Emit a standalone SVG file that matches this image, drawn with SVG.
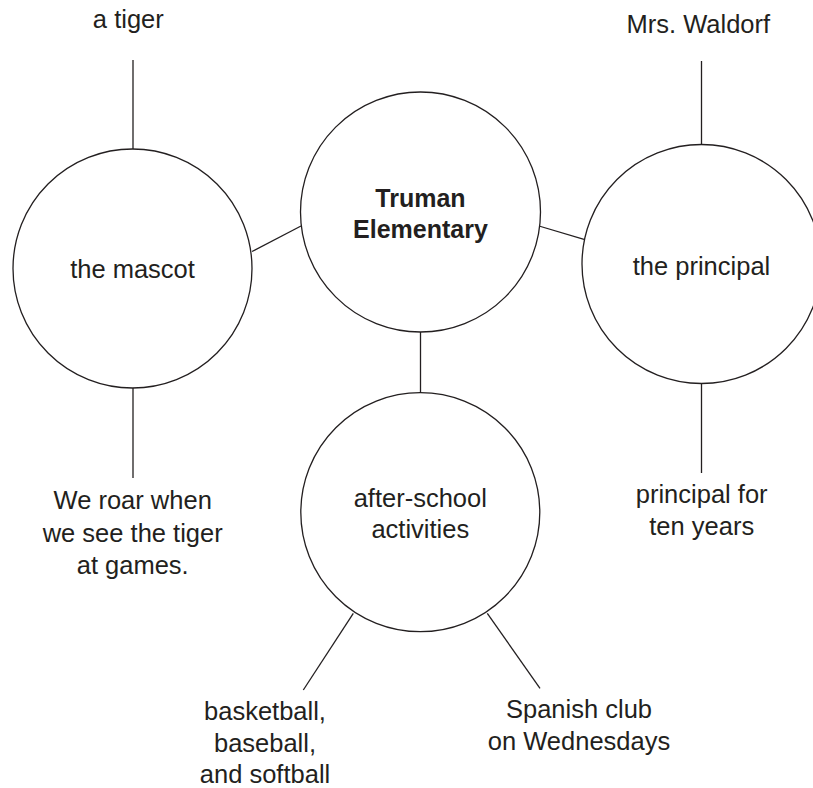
<svg xmlns="http://www.w3.org/2000/svg" width="813" height="788" viewBox="0 0 813 788">
<style>
  .node { fill: #ffffff; stroke: #231f20; stroke-width: 1.3; }
  .conn { stroke: #231f20; stroke-width: 1.3; fill: none; }
  .t { font-family: "Liberation Sans", Arial, sans-serif; font-size: 25.5px; fill: #231f20; text-anchor: middle; }
  .b { font-weight: bold; font-size: 25px; }
</style>
<rect width="813" height="788" fill="#ffffff"/>
<g id="connectors">
  <line class="conn" x1="133" y1="60" x2="133" y2="149"/>
  <line class="conn" x1="133" y1="388" x2="133" y2="478"/>
  <line class="conn" x1="252" y1="251.5" x2="301" y2="226"/>
  <line class="conn" x1="539" y1="226" x2="584" y2="239.3"/>
  <line class="conn" x1="701.5" y1="61" x2="701.5" y2="144.5"/>
  <line class="conn" x1="701.5" y1="383.5" x2="701.5" y2="473"/>
  <line class="conn" x1="420.5" y1="332" x2="420.5" y2="392.7"/>
  <line class="conn" x1="353.3" y1="613.3" x2="303.3" y2="690"/>
  <line class="conn" x1="487.3" y1="613.3" x2="540" y2="688.3"/>
</g>
<g id="node-center">
  <circle class="node" cx="420.5" cy="212" r="120"/>
  <text class="t b" x="420.5" y="207">Truman</text>
  <text class="t b" x="420.5" y="238">Elementary</text>
</g>
<g id="node-mascot">
  <circle class="node" cx="132.5" cy="268.5" r="119.5"/>
  <text class="t" x="132.5" y="278">the mascot</text>
</g>
<g id="node-principal">
  <circle class="node" cx="701.5" cy="264" r="119.5"/>
  <text class="t" x="701.5" y="275">the principal</text>
</g>
<g id="node-afterschool">
  <circle class="node" cx="420.3" cy="512.2" r="119.5"/>
  <text class="t" x="420.3" y="506.7">after-school</text>
  <text class="t" x="420.3" y="538.3">activities</text>
</g>
<g id="label-tiger">
  <text class="t" x="128.3" y="28.3">a tiger</text>
</g>
<g id="label-roar">
  <text class="t" x="132.7" y="509">We roar when</text>
  <text class="t" x="132.7" y="541.5">we see the tiger</text>
  <text class="t" x="132.7" y="574">at games.</text>
</g>
<g id="label-waldorf">
  <text class="t" x="698.3" y="32.7">Mrs. Waldorf</text>
</g>
<g id="label-tenyears">
  <text class="t" x="701.7" y="503">principal for</text>
  <text class="t" x="701.7" y="534.5">ten years</text>
</g>
<g id="label-sports">
  <text class="t" x="265" y="720">basketball,</text>
  <text class="t" x="265" y="751.7">baseball,</text>
  <text class="t" x="265" y="783.3">and softball</text>
</g>
<g id="label-spanish">
  <text class="t" x="579" y="718.3">Spanish club</text>
  <text class="t" x="579" y="750">on Wednesdays</text>
</g>
</svg>
